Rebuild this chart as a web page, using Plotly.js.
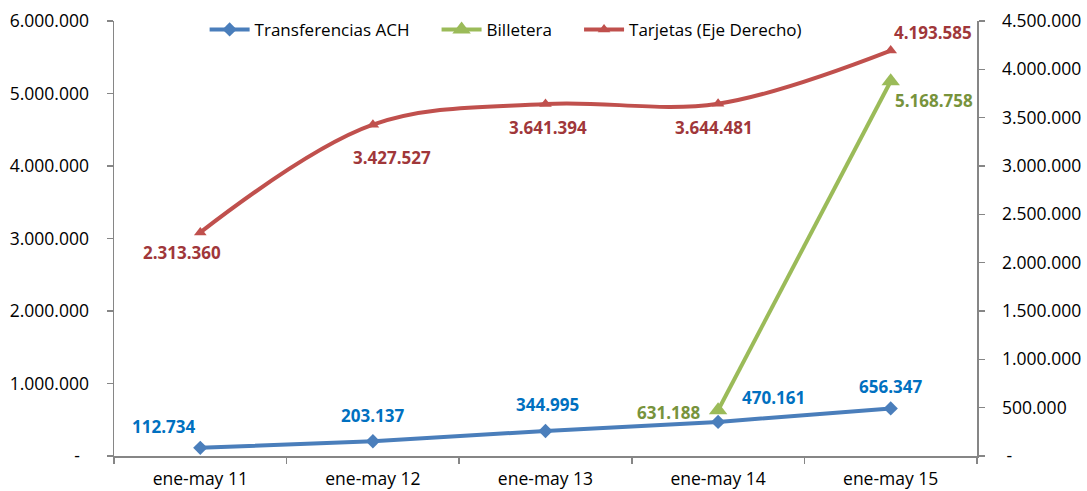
<!DOCTYPE html>
<html>
<head>
<meta charset="utf-8">
<script src="https://cdn.plot.ly/plotly-3.0.1.min.js"></script>
<style>html,body{margin:0;padding:0;background:#fff;}#chart{width:1087px;height:491px;}</style>
</head>
<body>
<div id="chart"></div>
<script>
const categories = ["ene-may 11", "ene-may 12", "ene-may 13", "ene-may 14", "ene-may 15"];
const achValues = [112734, 203137, 344995, 470161, 656347];
const billeteraCategories = ["ene-may 14", "ene-may 15"];
const billeteraValues = [631188, 5168758];
const tarjetasValues = [2313360, 3427527, 3641394, 3644481, 4193585];
const seriesNames = ["Transferencias ACH", "Billetera", "Tarjetas (Eje Derecho)"];
const leftTickVals = [0, 1000000, 2000000, 3000000, 4000000, 5000000, 6000000];
const leftTickText = ["-\u00a0\u00a0", "1.000.000", "2.000.000", "3.000.000", "4.000.000", "5.000.000", "6.000.000"];
const rightTickVals = [0, 500000, 1000000, 1500000, 2000000, 2500000, 3000000, 3500000, 4000000, 4500000];
const rightTickText = ["\u00a0-", "500.000", "1.000.000", "1.500.000", "2.000.000", "2.500.000", "3.000.000", "3.500.000", "4.000.000", "4.500.000"];

// label offsets in pixels (style only)
const achLabelShift = [[-37, 21], [0, 26], [2, 26], [55, 24], [0, 22]];
const billeteraLabelShift = [[-50, -2], [43, -19]];
const tarjetasLabelShift = [[-18, -20], [19, -33], [2, -23], [-4, -24], [42, 18]];

const fmt = v => v.toString().replace(/\B(?=(\d{3})+(?!\d))/g, ".");
const FONT = "Open Sans, Liberation Sans, sans-serif";
const C_BLUE = "#4A7EBB", C_GREEN = "#9BBB59", C_RED = "#C0504D";
const GAP = "\u00a0\u00a0\u00a0\u00a0\u00a0";

const traces = [
  {
    name: seriesNames[0] + GAP, x: categories, y: achValues, type: "scatter", mode: "lines+markers",
    line: {color: C_BLUE, width: 4}, marker: {symbol: "diamond", size: 11, color: C_BLUE}, cliponaxis: false
  },
  {
    name: seriesNames[1] + GAP, x: billeteraCategories, y: billeteraValues, type: "scatter", mode: "lines+markers",
    line: {color: C_GREEN, width: 4}, marker: {symbol: "triangle-up", size: 16, color: C_GREEN}, cliponaxis: false
  },
  {
    name: seriesNames[2], x: categories, y: tarjetasValues, yaxis: "y2", type: "scatter", mode: "lines+markers",
    line: {color: C_RED, width: 4, shape: "spline", smoothing: 1}, marker: {symbol: "triangle-up", size: 11, color: C_RED}, cliponaxis: false
  }
];

function labels(xs, ys, shifts, yref, color) {
  return xs.map((x, i) => ({
    x: x, y: ys[i], xref: "x", yref: yref, text: fmt(ys[i]), showarrow: false,
    xshift: shifts[i][0], yshift: shifts[i][1],
    font: {family: FONT, size: 17, color: color, weight: "bold"}
  }));
}

const annotations = [].concat(
  labels(categories, achValues, achLabelShift, "y", "#0070C0"),
  labels(billeteraCategories, billeteraValues, billeteraLabelShift, "y", "#77933C"),
  labels(categories, tarjetasValues, tarjetasLabelShift, "y2", "#A0373A")
);

const axisCommon = {
  showgrid: false, zeroline: false, showline: true, linecolor: "#868686", linewidth: 1.5,
  ticks: "outside", ticklen: 6, tickcolor: "#868686", tickwidth: 1.5,
  tickfont: {family: FONT, size: 17.5, color: "#000"}
};

const layout = {
  width: 1087, height: 491,
  margin: {l: 114, r: 110, t: 21, b: 35, autoexpand: false},
  paper_bgcolor: "#fff", plot_bgcolor: "#fff",
  font: {family: FONT, size: 17, color: "#000"},
  showlegend: true,
  legend: {orientation: "h", x: 0.105, xanchor: "left", y: 1.021, yanchor: "top", itemwidth: 40,
    font: {family: FONT, size: 17, color: "#000"}, bgcolor: "rgba(0,0,0,0)"},
  xaxis: Object.assign({}, axisCommon, {type: "category", range: [-0.5, 4.5], tickson: "boundaries", ticklabelstandoff: 6}),
  yaxis: Object.assign({}, axisCommon, {range: [0, 6000000], tickvals: leftTickVals, ticktext: leftTickText, ticklabelstandoff: 14}),
  yaxis2: Object.assign({}, axisCommon, {range: [0, 4500000], tickvals: rightTickVals, ticktext: rightTickText,
    overlaying: "y", side: "right", ticklabelstandoff: 14}),
  annotations: annotations
};

Plotly.newPlot("chart", traces, layout, {displayModeBar: false, staticPlot: true});
</script>
</body>
</html>
